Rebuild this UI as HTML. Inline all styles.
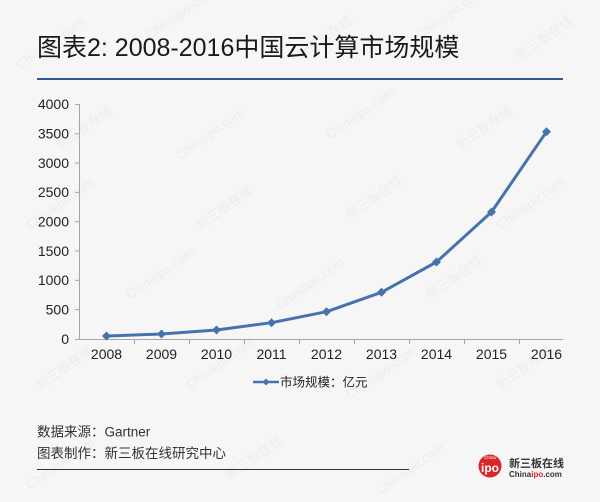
<!DOCTYPE html>
<html><head><meta charset="utf-8"><style>
html,body{margin:0;padding:0;background:#f6f6f6;}
svg{display:block;}
</style></head><body>
<svg width="600" height="502" viewBox="0 0 600 502" xmlns="http://www.w3.org/2000/svg">
<rect width="600" height="502" fill="#f6f6f6"/>
<g font-family="Liberation Sans, Noto Sans CJK SC, sans-serif" fill="#000" fill-opacity="0.045" font-size="13">
<text transform="translate(20,70) rotate(-35)">Chinaipo.com</text>
<text transform="translate(150,40) rotate(-35)">Chinaipo.com</text>
<text transform="translate(300,60) rotate(-35)">新三板在线</text>
<text transform="translate(420,40) rotate(-35)">Chinaipo.com</text>
<text transform="translate(520,60) rotate(-35)">新三板在线</text>
<text transform="translate(60,150) rotate(-35)">新三板在线</text>
<text transform="translate(180,160) rotate(-35)">Chinaipo.com</text>
<text transform="translate(330,140) rotate(-35)">Chinaipo.com</text>
<text transform="translate(460,150) rotate(-35)">新三板在线</text>
<text transform="translate(30,230) rotate(-35)">Chinaipo.com</text>
<text transform="translate(200,230) rotate(-35)">新三板在线</text>
<text transform="translate(350,220) rotate(-35)">新三板在线</text>
<text transform="translate(500,230) rotate(-35)">Chinaipo.com</text>
<text transform="translate(130,300) rotate(-35)">Chinaipo.com</text>
<text transform="translate(280,310) rotate(-35)">Chinaipo.com</text>
<text transform="translate(430,300) rotate(-35)">新三板在线</text>
<text transform="translate(40,390) rotate(-35)">新三板在线</text>
<text transform="translate(190,390) rotate(-35)">Chinaipo.com</text>
<text transform="translate(350,400) rotate(-35)">Chinaipo.com</text>
<text transform="translate(500,390) rotate(-35)">新三板在线</text>
<text transform="translate(30,490) rotate(-35)">Chinaipo.com</text>
<text transform="translate(230,480) rotate(-35)">新三板在线</text>
<text transform="translate(380,495) rotate(-35)">Chinaipo.com</text>
</g>
<text x="37" y="56" font-family="Liberation Sans, Noto Sans CJK SC, sans-serif" font-size="25" fill="#1a1a1a">图表2: 2008-2016中国云计算市场规模</text>
<line x1="37" y1="79" x2="563" y2="79" stroke="#2f5a8f" stroke-width="2"/>
<g stroke="#a6a6a6" stroke-width="1" fill="none">
<line x1="79.5" y1="104" x2="79.5" y2="339"/>
<line x1="79" y1="339.5" x2="563" y2="339.5"/>
<line x1="75" y1="104.5" x2="79" y2="104.5"/>
<line x1="75" y1="133.8" x2="79" y2="133.8"/>
<line x1="75" y1="163.1" x2="79" y2="163.1"/>
<line x1="75" y1="192.4" x2="79" y2="192.4"/>
<line x1="75" y1="221.7" x2="79" y2="221.7"/>
<line x1="75" y1="251" x2="79" y2="251"/>
<line x1="75" y1="280.3" x2="79" y2="280.3"/>
<line x1="75" y1="309.6" x2="79" y2="309.6"/>
<line x1="75" y1="339.5" x2="79" y2="339.5"/>
<line x1="134.5" y1="339" x2="134.5" y2="344"/>
<line x1="189.5" y1="339" x2="189.5" y2="344"/>
<line x1="244.5" y1="339" x2="244.5" y2="344"/>
<line x1="299.5" y1="339" x2="299.5" y2="344"/>
<line x1="354.5" y1="339" x2="354.5" y2="344"/>
<line x1="409.5" y1="339" x2="409.5" y2="344"/>
<line x1="464.5" y1="339" x2="464.5" y2="344"/>
<line x1="519.5" y1="339" x2="519.5" y2="344"/>
</g>
<g font-family="Liberation Sans, sans-serif" font-size="14" fill="#222" text-anchor="end">
<text x="69" y="109">4000</text>
<text x="69" y="138.5">3500</text>
<text x="69" y="168">3000</text>
<text x="69" y="197">2500</text>
<text x="69" y="226.5">2000</text>
<text x="69" y="256">1500</text>
<text x="69" y="285">1000</text>
<text x="69" y="314.5">500</text>
<text x="69" y="344">0</text>
</g>
<g font-family="Liberation Sans, sans-serif" font-size="14" fill="#222" text-anchor="middle">
<text x="106.5" y="359">2008</text>
<text x="161.5" y="359">2009</text>
<text x="216.5" y="359">2010</text>
<text x="271.5" y="359">2011</text>
<text x="326.5" y="359">2012</text>
<text x="381.5" y="359">2013</text>
<text x="436.5" y="359">2014</text>
<text x="491.5" y="359">2015</text>
<text x="546.5" y="359">2016</text>
</g>
<polyline fill="none" stroke="#4673ae" stroke-width="3" stroke-linejoin="round" points="106.5,336 161.5,334 216.5,330 271.5,322.7 326.5,311.7 381.5,292.3 436.5,262 491.5,212 546.5,131.7"/>
<g fill="#4673ae">
<path d="M106.5,331.5 L111,336 L106.5,340.5 L102,336Z"/>
<path d="M161.5,329.5 L166,334 L161.5,338.5 L157,334Z"/>
<path d="M216.5,325.5 L221,330 L216.5,334.5 L212,330Z"/>
<path d="M271.5,318.2 L276,322.7 L271.5,327.2 L267,322.7Z"/>
<path d="M326.5,307.2 L331,311.7 L326.5,316.2 L322,311.7Z"/>
<path d="M381.5,287.8 L386,292.3 L381.5,296.8 L377,292.3Z"/>
<path d="M436.5,257.5 L441,262 L436.5,266.5 L432,262Z"/>
<path d="M491.5,207.5 L496,212 L491.5,216.5 L487,212Z"/>
<path d="M546.5,127.2 L551,131.7 L546.5,136.2 L542,131.7Z"/>
</g>
<line x1="253" y1="382" x2="279" y2="382" stroke="#4673ae" stroke-width="2.5"/>
<path d="M266,378.5 L269.5,382 L266,385.5 L262.5,382Z" fill="#4673ae"/>
<text x="280" y="386.5" font-family="Liberation Sans, Noto Sans CJK SC, sans-serif" font-size="12.5" fill="#222">市场规模：亿元</text>
<g font-family="Liberation Sans, Noto Sans CJK SC, sans-serif" font-size="13.5" fill="#333">
<text x="37" y="436.5">数据来源：Gartner</text>
<text x="37" y="458">图表制作：新三板在线研究中心</text>
</g>
<line x1="37" y1="469.5" x2="409" y2="469.5" stroke="#333" stroke-width="1"/>
<circle cx="490" cy="466" r="11.5" fill="#d9262c"/>
<text x="490" y="472" font-family="Liberation Sans, sans-serif" font-size="12" font-weight="bold" fill="#fff" text-anchor="middle">ipo</text>
<text x="490" y="459" font-family="Liberation Sans, sans-serif" font-size="4.5" fill="#fff" text-anchor="middle">China</text>
<text x="509" y="467" font-family="Liberation Sans, Noto Sans CJK SC, sans-serif" font-size="11" font-weight="bold" fill="#333">新三板在线</text>
<text x="509" y="477" font-family="Liberation Sans, sans-serif" font-size="8" font-weight="bold" fill="#333">China<tspan fill="#d9262c">ipo</tspan>.com</text>
</svg>
</body></html>
